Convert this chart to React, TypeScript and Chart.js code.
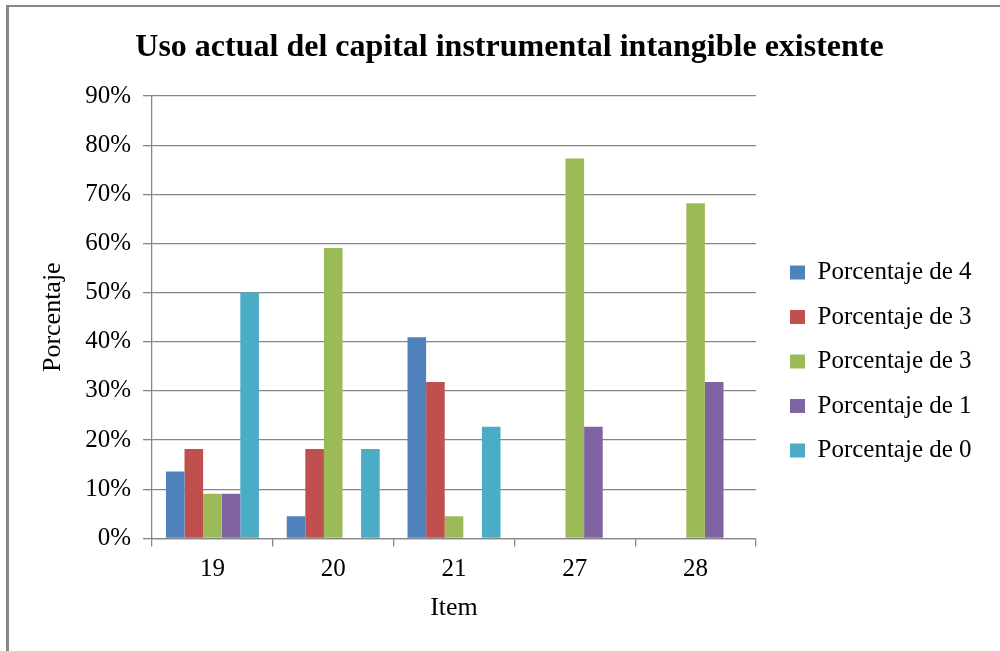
import React, { useEffect, useRef } from "react";
import { Chart, registerables } from "chart.js";

Chart.register(...registerables);

const TITLE = "Uso actual del capital instrumental intangible existente";
const CATEGORIES = ["19", "20", "21", "27", "28"];
const SERIES_LABELS = [
  "Porcentaje de 4",
  "Porcentaje de 3",
  "Porcentaje de 3",
  "Porcentaje de 1",
  "Porcentaje de 0",
];
const P4 = [13.6, 4.5, 40.9, 0, 0];
const P3A = [18.2, 18.2, 31.8, 0, 0];
const P3B = [9.1, 59.1, 4.5, 77.3, 68.2];
const P1 = [9.1, 0, 0, 22.7, 31.8];
const P0 = [50, 18.2, 22.7, 0, 0];
const SERIES_VALUES = [P4, P3A, P3B, P1, P0];
const COLORS = ["#4F81BD", "#C0504D", "#9BBB59", "#8064A2", "#4BACC6"];
const Y_MAX = 90;
const Y_STEP = 10;
const X_TITLE = "Item";
const Y_TITLE = "Porcentaje";

const FONT = '"Liberation Serif", "Times New Roman", serif';
const GRID = "#868686";

export default function App() {
  const ref = useRef<HTMLCanvasElement | null>(null);

  useEffect(() => {
    if (!ref.current) return;
    Chart.defaults.font.family = FONT;
    Chart.defaults.color = "#000";
    const chart = new Chart(ref.current, {
      type: "bar",
      data: {
        labels: CATEGORIES,
        datasets: SERIES_VALUES.map((vals, i) => ({
          label: SERIES_LABELS[i],
          data: vals,
          backgroundColor: COLORS[i],
          borderWidth: 0,
          categoryPercentage: 0.77,
          barPercentage: 1,
        })),
      },
      options: {
        animation: false,
        responsive: true,
        maintainAspectRatio: false,
        layout: { padding: { left: 28.5, right: 18.5, top: 0, bottom: 0 } },
        plugins: {
          title: {
            display: true,
            text: TITLE,
            color: "#000",
            font: { size: 32, weight: "bold", family: FONT },
            padding: { top: 21.8, bottom: 28.8 },
          },
          legend: {
            position: "right",
            align: "center",
            maxWidth: 211,
            title: { display: true, text: "", font: { size: 12, lineHeight: 1.25 }, padding: { top: 25, bottom: 25 } },
            labels: {
              boxWidth: 15,
              boxHeight: 14,
              padding: 19.5,
              color: "#000",
              font: { size: 25, family: FONT },
            },
          },
          tooltip: { enabled: false },
        },
        scales: {
          x: {
            grid: {
              display: true,
              drawOnChartArea: false,
              drawTicks: true,
              tickLength: 8,
              color: GRID,
              lineWidth: 1.3,
            },
            border: { display: true, color: GRID, width: 1.3 },
            ticks: { color: "#000", font: { size: 25 }, padding: 8 },
            title: {
              display: true,
              text: X_TITLE,
              color: "#000",
              font: { size: 26 },
              padding: { top: 0, bottom: 27.4 },
            },
          },
          y: {
            min: 0,
            max: Y_MAX,
            grid: { color: GRID, lineWidth: 1.3, tickLength: 9, drawTicks: true },
            border: { display: true, color: GRID, width: 1.3 },
            ticks: {
              stepSize: Y_STEP,
              color: "#000",
              font: { size: 25 },
              padding: 12,
              callback: (v: any) => `${v}%`,
            },
            title: {
              display: true,
              text: Y_TITLE,
              color: "#000",
              font: { size: 26 },
              padding: { top: 0, bottom: 4.5 },
            },
          },
          gap: {
            type: "linear",
            position: "right",
            display: true,
            grid: { display: false, drawTicks: false },
            border: { display: false },
            ticks: { display: false },
            afterFit: (s: any) => {
              s.width = 14.5;
            },
          },
        } as any,
      },
    });
    return () => chart.destroy();
  }, []);

  return (
    <div
      style={{
        position: "absolute",
        left: 6,
        top: 5,
        width: 994,
        height: 646,
        boxSizing: "border-box",
        borderLeft: "3px solid #878787",
        borderTop: "2px solid #878787",
        background: "#fff",
      }}
    >
      <div style={{ position: "relative", width: 991, height: 644 }}>
        <canvas ref={ref} />
      </div>
    </div>
  );
}
